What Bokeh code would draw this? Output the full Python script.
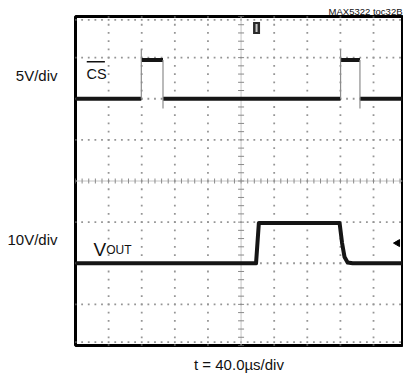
import numpy as np
from bokeh.plotting import figure
from bokeh.models import Range1d, Label, LinearAxis, FixedTicker, Title
from bokeh.embed import file_html
from bokeh.resources import INLINE

# ---- data (time in microseconds, voltages in volts) ----
T_DIV = 40.0            # us per division
CS_VDIV = 5.0           # V per division
VOUT_VDIV = 10.0        # V per division

cs_rise_t = [79.5, 320.2]
cs_fall_t = [105.7, 343.6]
cs_low_v = 0.0
cs_high_v = 4.7
cs_overshoot_v = 6.0
cs_undershoot_v = -1.2

vout_t = [0.0, 218.1, 221.5, 319.0, 322.0, 325.0, 328.7, 334.8, 395.0]
vout_v = [0.0, 0.0, 9.8, 9.8, 4.9, 1.5, 0.2, 0.0, 0.0]

trigger_t = 218.7

channel_ticks = [2.57, -1.42]
channel_labels = ["5V/div", "10V/div"]

FONT = "Liberation Sans"

p = figure(width=403, height=379, x_range=Range1d(0, 395), y_range=Range1d(-4, 4),
           x_axis_type=None, y_axis_type=None, output_backend="svg",
           toolbar_location=None, min_border_left=75, min_border_right=1,
           min_border_top=16, min_border_bottom=34,
           title=Title(text="MAX5322 toc32B", align="right", text_font=FONT,
                       text_font_size="9.5px", text_font_style="normal",
                       text_color="#111111", standoff=0))
p.extra_y_ranges = {"cs": Range1d(-30, 10), "vout": Range1d(-20, 60)}
p.outline_line_color = "black"
p.outline_line_width = 3
p.background_fill_color = "white"
p.border_fill_color = "white"

yax = LinearAxis(ticker=FixedTicker(ticks=channel_ticks),
                 major_label_overrides=dict(zip(channel_ticks, channel_labels)),
                 axis_line_color=None, major_tick_line_color=None,
                 minor_tick_line_color=None, major_tick_out=0, major_tick_in=0,
                 major_label_standoff=18, major_label_text_font=FONT,
                 major_label_text_font_size="15px", major_label_text_color="#111111")
p.add_layout(yax, "left")
xax = LinearAxis(ticker=FixedTicker(ticks=[]), axis_label="t = 40.0\u00b5s/div",
                 axis_line_color=None, major_tick_line_color=None,
                 minor_tick_line_color=None, major_tick_out=0, major_tick_in=0,
                 axis_label_standoff=10, axis_label_text_font=FONT,
                 axis_label_text_font_size="15px", axis_label_text_font_style="normal",
                 axis_label_text_color="#111111")
p.add_layout(xax, "below")

# ---- graticule ----
dot_c = "#959595"
gx, gy = [], []
for k in range(1, 10):
    if k == 5:
        continue
    for yy in np.arange(-4, 4.001, 0.2):
        gx.append(k * T_DIV); gy.append(yy)
for k in (-3, -2, -1, 1, 2, 3):
    for xx in np.arange(0, 395.1, T_DIV / 5):
        gx.append(xx); gy.append(k)
for yb in (3.92, -3.92):
    for xx in np.arange(0, 395.1, T_DIV / 5):
        gx.append(xx); gy.append(yb)
p.scatter(gx, gy, marker="square", size=1.8, fill_color=dot_c, line_color=None)

# center cross
p.line([0, 395], [0, 0], line_color="#c4c4c4", line_width=1)
p.line([5 * T_DIV, 5 * T_DIV], [-4, 4], line_color="#c4c4c4", line_width=1)
tx = np.arange(0, 395.1, T_DIV / 5)
p.scatter(tx, np.zeros_like(tx), marker="dash", angle=np.pi / 2, size=5,
          line_color="#8a8a8a", line_width=1)
ty = np.arange(-4, 4.001, 0.2)
p.scatter(np.full_like(ty, 5 * T_DIV), ty, marker="dash", size=6,
          line_color="#8a8a8a", line_width=1)

# ---- CS trace ----
lvl_x, lvl_y = [], []
starts = [0.0] + cs_fall_t
ends = cs_rise_t + [395.0]
for a, b in zip(starts, ends):
    lvl_x.append([a, b]); lvl_y.append([cs_low_v, cs_low_v])
for a, b in zip(cs_rise_t, cs_fall_t):
    lvl_x.append([a, b]); lvl_y.append([cs_high_v, cs_high_v])
p.multi_line(lvl_x, lvl_y, line_color="#151515", line_width=4, y_range_name="cs")
edge_x, edge_y = [], []
for r in cs_rise_t:
    edge_x.append([r, r]); edge_y.append([cs_low_v, cs_overshoot_v])
for f in cs_fall_t:
    edge_x.append([f, f]); edge_y.append([cs_high_v, cs_undershoot_v])
p.multi_line(edge_x, edge_y, line_color="#8c8c8c", line_width=1.2, y_range_name="cs")

# ---- VOUT trace ----
p.line(vout_t, vout_v, line_color="#151515", line_width=4, y_range_name="vout",
       line_join="round")

# ---- markers ----
p.rect([trigger_t], [3.72], width=7, height=12, width_units="screen",
       height_units="screen", fill_color="#2a2a2a", line_color=None)
p.rect([trigger_t], [3.72], width=2, height=8, width_units="screen",
       height_units="screen", fill_color="#c8c8c8", line_color=None)
p.scatter([389.0], [-1.51], marker="triangle", angle=np.pi / 2, size=7,
          fill_color="black", line_color="black")

# ---- in-screen texts ----
def lab(x, y, text, size, align="left", base="middle"):
    p.add_layout(Label(x=x, y=y, text=text, text_font=FONT,
                       text_font_size=f"{size}px", text_align=align,
                       text_baseline=base, text_color="#111111"))

lab(13.3, 2.61, "CS", 14.5)
p.line([13.6, 35.5], [2.90, 2.90], line_color="#111111", line_width=1.3)
lab(21.8, -1.67, "V", 19, base="alphabetic")
lab(37.0, -1.67, "OUT", 12, base="alphabetic")

open("out.html", "w").write(file_html(p, INLINE))
